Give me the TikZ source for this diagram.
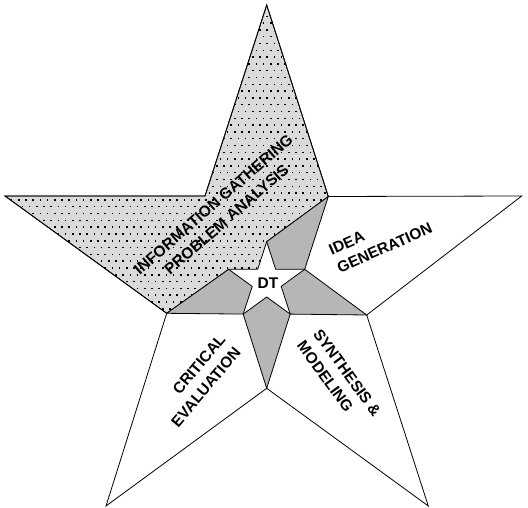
\documentclass[tikz,border=0pt]{standalone}
\usepackage{fontspec}
\setsansfont{Liberation Sans}
\usepackage{tikz}
\definecolor{dotgray}{RGB}{218,218,218}
\definecolor{hubgray}{RGB}{181,182,184}
\tikzset{
  % --- Star regions -----------------------------------------------------------
  dotregion/.style={fill=dotgray, draw=black, line width=0.8pt},
  hubregion/.style={fill=hubgray, draw=black, line width=0.8pt},
  starline/.style={draw=black, line width=0.8pt, line join=miter},
  speck/.style={fill=black},
  % --- Labels -----------------------------------------------------------------
  armlabel/.style={font=\sffamily\bfseries\fontsize{15.5}{20}\selectfont, inner sep=0pt},
}

\begin{document}
\begin{tikzpicture}[x=1pt, y=-1pt]
    \useasboundingbox (0,0) rectangle (528,508);

    % outer star
    \coordinate (top) at (266.7,5);
    \coordinate (urc) at (328.3,196.5);
    \coordinate (right) at (521.7,196);
    \coordinate (rlc) at (366.7,315);
    \coordinate (bright) at (428.3,506);
    \coordinate (botc) at (266.7,388.3);
    \coordinate (bleft) at (106,506);
    \coordinate (llc) at (166.7,313.3);
    \coordinate (left) at (5,196);
    \coordinate (ulc) at (205,196);
    % inner star
    \coordinate (stop) at (266.7,241.7);
    \coordinate (surc) at (275.7,269.3);
    \coordinate (sright) at (304.7,269.3);
    \coordinate (srlc) at (281.2,286.4);
    \coordinate (sbright) at (290.2,314.1);
    \coordinate (sbotc) at (266.7,297);
    \coordinate (sbleft) at (243.2,314.1);
    \coordinate (sllc) at (252.2,286.4);
    \coordinate (sleft) at (228.7,269.3);
    \coordinate (sulc) at (257.7,269.3);

    \fill[dotgray] (left) -- (ulc) -- (top) -- (urc) -- (stop) -- (sulc) -- (sleft) -- (llc) -- cycle;
    \begin{scope}
      \clip (left) -- (ulc) -- (top) -- (urc) -- (stop) -- (sulc) -- (sleft) -- (llc) -- cycle;
      \foreach \j in {0,...,47} {
        \foreach \i in {0,...,47} {
          \pgfmathsetmacro{\dotx}{7.2*\i + 3.6*mod(\j,2)}
          \fill[speck] (\dotx,6.8*\j+2) rectangle ++(1.5,1.5);
        }
      }
    \end{scope}
    \draw[starline] (left) -- (ulc) -- (top) -- (urc) -- (stop) -- (sulc) -- (sleft) -- (llc) -- cycle;

    \draw[hubregion] (urc) -- (sright) -- (surc) -- (stop) -- cycle;
    \draw[hubregion] (rlc) -- (sbright) -- (srlc) -- (sright) -- cycle;
    \draw[hubregion] (botc) -- (sbleft) -- (sbotc) -- (sbright) -- cycle;
    \draw[hubregion] (llc) -- (sleft) -- (sllc) -- (sbleft) -- cycle;

    \draw[starline] (top) -- (urc) -- (right) -- (rlc) -- (bright) -- (botc)
      -- (bleft) -- (llc) -- (left) -- (ulc) -- cycle;

    \node[armlabel, align=center, rotate=41] (gather) at (220,212) {INFORMATION GATHERING\\PROBLEM ANALYSIS};
    \node[armlabel, align=left, rotate=24, anchor=south west] (idea) at (340,274) {IDEA\\GENERATION};
    \node[armlabel, align=left, rotate=-54, anchor=south west] (synth) at (296,346) {SYNTHESIS \&\\MODELING};
    \node[armlabel, align=right, rotate=50, anchor=south east] (critic) at (242,353) {CRITICAL\\EVALUATION};
    \node[armlabel] (hub) at (268,283) {DT};
  \end{tikzpicture}
\end{document}
